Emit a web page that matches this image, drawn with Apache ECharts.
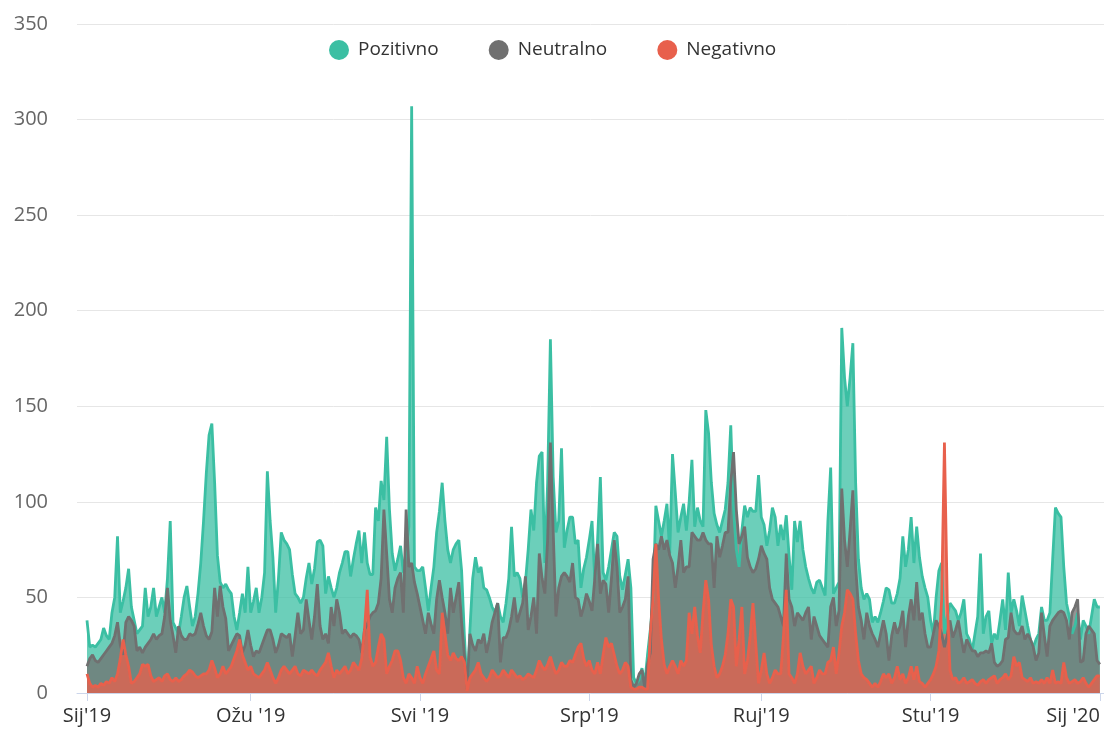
<!DOCTYPE html>
<html>
<head>
<meta charset="utf-8">
<title>Sentiment 2019</title>
<script src="https://cdn.jsdelivr.net/npm/echarts@6/dist/echarts.min.js"></script>
<style>
  html, body { margin: 0; padding: 0; background: #fff; }
  #chart { width: 1104px; height: 731px; }
</style>
</head>
<body>
<div id="chart"></div>
<script>
// dnevne vrijednosti, 1.1.2019 - 1.1.2020 (indeks = dan od 1.1.2019)
const pozitivno = [
  38,24,25,24,26,28,34,30,28,42,50,82,42,48,55,65,45,38,31,33,35,55,40,45,55,40,45,50,42,60,90,
  37,34,31,40,50,56,45,35,40,52,68,90,115,135,141,110,72,58,55,57,54,52,40,33,42,52,42,66,
  42,48,55,42,50,63,116,90,71,42,60,84,80,78,75,62,52,50,47,50,60,68,57,65,79,80,77,52,61,55,50,
  55,63,68,74,74,61,70,78,85,68,84,68,62,62,97,90,111,101,134,96,73,64,70,77,63,75,87,307,66,64,
  64,66,55,43,55,66,84,95,110,90,75,68,75,78,80,64,30,3,33,60,71,63,66,55,54,50,45,42,47,40,37,
  47,60,87,61,63,60,50,58,75,96,85,110,124,126,68,110,185,113,84,90,128,76,85,92,92,78,80,55,65,71,
  80,90,59,80,113,63,59,66,75,84,82,61,54,62,70,55,8,5,7,13,5,20,33,49,98,90,82,90,99,73,125,
  105,84,92,99,85,100,122,87,97,90,87,148,136,110,94,88,84,90,96,110,140,96,75,66,85,98,92,97,95,95,114,
  92,88,77,85,97,92,77,88,80,93,72,54,90,79,90,75,66,60,55,52,58,59,55,51,90,118,52,55,58,191,
  165,150,165,183,110,70,55,49,52,49,37,40,37,42,48,55,54,47,47,52,60,82,66,75,92,68,87,71,61,55,50,
  38,31,50,64,68,31,40,47,45,43,38,42,49,31,28,22,31,40,73,31,40,43,26,31,28,38,49,33,63,42,
  49,43,35,51,43,35,28,24,28,31,45,38,38,42,70,97,94,92,66,47,40,31,35,42,28,38,35,31,40,49,45,45
];
const neutralno = [
  14,18,20,17,16,18,20,22,24,26,30,37,25,20,37,40,38,35,22,24,21,24,26,28,31,28,30,31,40,55,38,
  30,21,35,30,28,28,31,30,31,36,42,35,30,28,32,55,40,56,45,39,22,25,28,31,30,21,25,33,
  25,19,22,21,25,29,33,33,28,21,25,31,30,29,31,19,30,42,31,33,49,38,28,40,57,35,28,31,26,45,35,
  49,42,31,33,31,29,31,30,28,21,33,36,40,42,43,47,60,96,73,49,42,55,60,63,42,96,66,68,58,52,
  45,38,31,42,36,31,49,59,50,42,31,55,42,50,58,37,20,2,31,25,22,28,26,31,21,28,37,42,47,16,29,
  29,33,40,50,37,42,47,61,33,40,50,31,73,60,52,80,131,85,40,55,61,63,61,58,68,50,49,40,45,52,
  48,43,60,78,52,59,57,42,60,80,66,42,45,49,61,7,3,5,10,12,3,15,21,70,78,75,82,75,80,72,68,
  55,66,80,63,66,66,84,82,80,80,84,80,78,78,55,82,71,77,84,84,110,126,96,78,82,87,71,66,63,65,70,
  77,73,70,55,49,47,45,40,35,73,49,45,35,42,40,38,42,45,28,40,35,30,28,26,24,45,50,35,43,107,
  80,66,85,106,66,45,38,28,42,35,31,28,24,31,38,31,17,30,37,31,35,43,24,40,49,38,58,38,42,31,24,
  24,31,38,35,31,24,30,38,29,33,38,29,21,28,25,22,22,19,21,21,22,21,26,16,14,15,17,28,29,42,
  33,31,31,35,28,31,28,24,17,21,42,30,19,35,38,40,42,43,42,38,28,42,45,49,16,17,31,35,33,31,17,15
];
const negativno = [
  10,5,3,4,3,5,4,6,5,8,6,10,18,28,20,14,5,6,8,10,15,14,15,9,6,7,8,6,9,10,7,
  6,8,6,7,9,10,12,11,9,8,9,10,10,12,17,13,8,10,14,10,12,14,18,22,28,20,16,12,
  14,10,9,8,10,12,16,12,8,5,8,12,14,12,10,12,14,10,9,12,11,10,12,10,9,12,14,16,21,14,8,
  12,10,12,14,10,12,16,14,12,18,33,54,19,14,16,24,31,28,10,14,17,22,22,17,8,5,10,8,5,14,
  8,5,10,14,18,22,12,10,42,31,20,17,21,18,17,19,16,1,8,10,12,16,10,8,6,8,12,10,8,9,12,
  10,8,12,10,8,9,7,8,10,9,8,12,17,14,12,15,19,14,10,12,16,14,14,17,16,20,24,26,18,14,
  17,12,10,16,10,20,29,24,26,20,14,10,12,16,14,3,2,2,3,3,2,2,31,49,78,49,28,15,10,14,17,
  14,10,17,14,17,42,31,45,30,21,42,59,49,25,14,8,10,14,20,31,49,45,14,28,45,10,17,30,47,26,5,
  12,21,10,5,8,12,10,10,30,54,10,8,5,10,21,14,10,12,14,5,8,12,10,10,16,17,24,10,21,35,
  42,54,52,49,31,17,10,8,7,5,3,5,3,6,10,8,10,5,8,14,7,10,5,8,14,7,14,6,5,3,5,
  7,10,14,22,49,131,49,12,7,8,5,6,8,5,6,7,5,4,6,7,5,7,8,9,5,7,8,10,7,9,
  19,14,16,8,7,6,8,5,6,5,7,5,8,5,12,5,6,5,16,8,5,6,7,5,6,8,5,3,5,7,9,9
];

// oznake osi x (dan od 1.1.2019)
const tickDays = [0, 59, 120, 181, 243, 304, 365];
const tickLabels = ["Sij'19", "Ožu '19", "Svi '19", "Srp'19", "Ruj'19", "Stu'19", "Sij '20"];

const boje = ['#3bbfa3', '#707070', '#e8604c'];
const font = '"Open Sans", "Noto Sans", sans-serif';

function toPairs(arr) {
    return arr.map(function (v, i) { return [i, v]; });
}

function areaSeries(name, arr, color) {
    return {
        name: name,
        type: 'line',
        data: toPairs(arr),
        showSymbol: false,
        smooth: false,
        lineStyle: { color: color, width: 2.8 },
        itemStyle: { color: color },
        areaStyle: { color: color, opacity: 0.75 },
        emphasis: { disabled: true }
    };
}

const myChart = echarts.init(document.getElementById('chart'));
myChart.setOption({
    animation: false,
    textStyle: { fontFamily: font },
    legend: {
        data: ['Pozitivno', 'Neutralno', 'Negativno'],
        icon: 'circle',
        itemWidth: 20,
        itemHeight: 20,
        itemGap: 50,
        left: 324,
        top: 35,
        textStyle: { fontSize: 19, color: '#333', fontFamily: font, padding: [0, 0, 0, 4] }
    },
    // Sij'19 na x=87, Sij '20 na x=1100
    grid: { left: 77, right: 0, top: 24, bottom: 38, containLabel: false, outerBoundsMode: 'none' },
    xAxis: {
        type: 'value',
        min: -3.6,
        max: 366.5,
        axisLine: { show: true, lineStyle: { color: '#ccd6eb', width: 1 } },
        axisTick: { show: true, customValues: tickDays, length: 8, lineStyle: { color: '#ccd6eb' } },
        axisLabel: {
            customValues: tickDays,
            margin: 13,
            fontSize: 20,
            color: '#333',
            fontFamily: font,
            alignMaxLabel: 'right',
            formatter: function (v) { return tickLabels[tickDays.indexOf(v)]; }
        },
        splitLine: { show: false }
    },
    yAxis: {
        type: 'value',
        min: 0,
        max: 350,
        interval: 50,
        axisLine: { show: false },
        axisTick: { show: false },
        axisLabel: { fontSize: 20, color: '#666', margin: 29, fontFamily: font },
        splitLine: { lineStyle: { color: '#e6e6e6', width: 1 } }
    },
    series: [
        areaSeries('Pozitivno', pozitivno, boje[0]),
        areaSeries('Neutralno', neutralno, boje[1]),
        areaSeries('Negativno', negativno, boje[2])
    ]
});
</script>
</body>
</html>
